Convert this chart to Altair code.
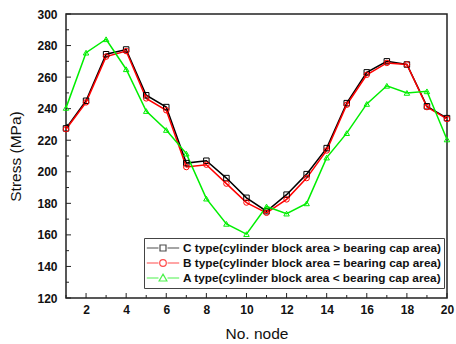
import altair as alt
import pandas as pd

nodes = list(range(1, 21))
c_type = [227.5, 245, 274.5, 277.5, 248.5, 241, 205.5, 207, 196, 183.5, 175, 185.5, 198.5, 215, 243.5, 263, 270, 268, 241.5, 234]
b_type = [227, 244, 273, 276.5, 246.5, 239, 203, 204.5, 192.5, 180.5, 174, 182.5, 196, 213.5, 242.5, 261.5, 269, 268, 241, 233.5]
a_type = [240.5, 275.5, 284, 265, 238.5, 226.5, 211.5, 183, 167, 160.5, 178, 173.5, 180, 209, 224.5, 243, 254.5, 250, 251, 220.5]

labels = [
    "C type(cylinder block area > bearing cap area)",
    "B type(cylinder block area = bearing cap area)",
    "A type(cylinder block area < bearing cap area)",
]
colors = ["#000000", "#ff0000", "#00ee00"]
x_major = [2, 4, 6, 8, 10, 12, 14, 16, 18, 20]
x_minor = [1, 3, 5, 7, 9, 11, 13, 15, 17, 19]
y_major = [120, 140, 160, 180, 200, 220, 240, 260, 280, 300]
y_minor = [130, 150, 170, 190, 210, 230, 250, 270, 290]

W, H = 381, 284

rows = []
for lab, vals in zip(labels, [c_type, b_type, a_type]):
    for n, v in zip(nodes, vals):
        rows.append({"node": n, "stress": v, "series": lab})
df = pd.DataFrame(rows)

xs = alt.Scale(domain=[1, 20], nice=False, zero=False)
ys = alt.Scale(domain=[120, 300], nice=False, zero=False)
cs = alt.Scale(domain=labels, range=colors)

point_shapes = ["square", "circle", "triangle-up"]
dash = "M-1.2,0L0.75,0M2.25,0L4.2,0"
legend_shapes = [
    dash + "M1,-0.5L2,-0.5L2,0.5L1,0.5Z",
    dash + "M2.05,0A0.55,0.55 0 1,1 0.95,0A0.55,0.55 0 1,1 2.05,0",
    dash + "M1.5,-0.65L2.15,0.5L0.85,0.5Z",
]

x_axis = alt.Axis(values=x_major, title="No. node", ticks=False, domain=False, grid=False,
                  labelFont="Liberation Sans", labelFontWeight="bold", labelFontSize=12,
                  labelColor="#111", labelPadding=6, labelOverlap=False, labelFlush=False,
                  titleFont="Liberation Sans", titleFontWeight="normal", titleFontSize=15.5,
                  titleColor="#111", titlePadding=11)
y_axis = alt.Axis(values=y_major, title="Stress (MPa)", ticks=False, domain=False, grid=False,
                  labelFont="Liberation Sans", labelFontWeight="bold", labelFontSize=12,
                  labelColor="#111", labelPadding=9, labelOverlap=False, labelFlush=False,
                  titleFont="Liberation Sans", titleFontWeight="normal", titleFontSize=15.5,
                  titleColor="#111", titlePadding=13)

base = alt.Chart(df)
lines = base.mark_line(strokeWidth=1.5).encode(
    x=alt.X("node:Q", scale=xs, axis=x_axis),
    y=alt.Y("stress:Q", scale=ys, axis=y_axis),
    color=alt.Color("series:N", scale=cs, legend=None),
    detail="series:N",
)
points = base.mark_point(filled=False, strokeWidth=1, size=30, opacity=1).encode(
    x=alt.X("node:Q", scale=xs, axis=x_axis),
    y=alt.Y("stress:Q", scale=ys, axis=y_axis),
    color=alt.Color("series:N", scale=cs, legend=None),
    shape=alt.Shape("series:N", scale=alt.Scale(domain=labels, range=point_shapes), legend=None),
)

leg_props = dict(
    title=None, orient="none", legendX=78, legendY=224,
    labelFont="Liberation Sans", labelFontWeight="bold", labelFontSize=11.8,
    labelColor="#111", symbolSize=144, symbolStrokeWidth=1.2, labelOffset=22,
    rowPadding=1, padding=3, strokeColor="#444", fillColor="white", labelLimit=400)

legend_layer = base.transform_calculate(off="datum.stress + 1000").mark_point(
    filled=False, clip=True).encode(
    x=alt.X("node:Q", scale=xs, axis=x_axis),
    y=alt.Y("off:Q", scale=ys, axis=y_axis),
    color=alt.Color("series:N", scale=cs, legend=alt.Legend(**leg_props)),
    shape=alt.Shape("series:N", scale=alt.Scale(domain=labels, range=legend_shapes),
                    legend=alt.Legend(**leg_props)),
)

xmaj = alt.Chart(pd.DataFrame({"v": x_major})).mark_rule(color="#222", strokeWidth=1).encode(
    x=alt.X("v:Q", scale=xs, axis=x_axis), y=alt.value(H), y2=alt.value(H - 5))
xmin = alt.Chart(pd.DataFrame({"v": x_minor})).mark_rule(color="#222", strokeWidth=1).encode(
    x=alt.X("v:Q", scale=xs, axis=x_axis), y=alt.value(H), y2=alt.value(H - 3))
ymaj = alt.Chart(pd.DataFrame({"v": y_major})).mark_rule(color="#222", strokeWidth=1).encode(
    y=alt.Y("v:Q", scale=ys, axis=y_axis), x=alt.value(0), x2=alt.value(5))
ymin = alt.Chart(pd.DataFrame({"v": y_minor})).mark_rule(color="#222", strokeWidth=1).encode(
    y=alt.Y("v:Q", scale=ys, axis=y_axis), x=alt.value(0), x2=alt.value(3))

chart = alt.layer(lines, xmaj, xmin, ymaj, ymin, points, legend_layer).resolve_scale(
    shape="independent"
).resolve_legend(
    color="independent", shape="independent"
).properties(
    width=W, height=H,
    autosize=alt.AutoSizeParams(type="none"),
    padding={"left": 66, "top": 14, "right": 9, "bottom": 46},
    background="white",
).configure_view(stroke="#222", strokeWidth=1.5)

chart.save("out.html", embed_options={"renderer": "svg", "actions": False})
